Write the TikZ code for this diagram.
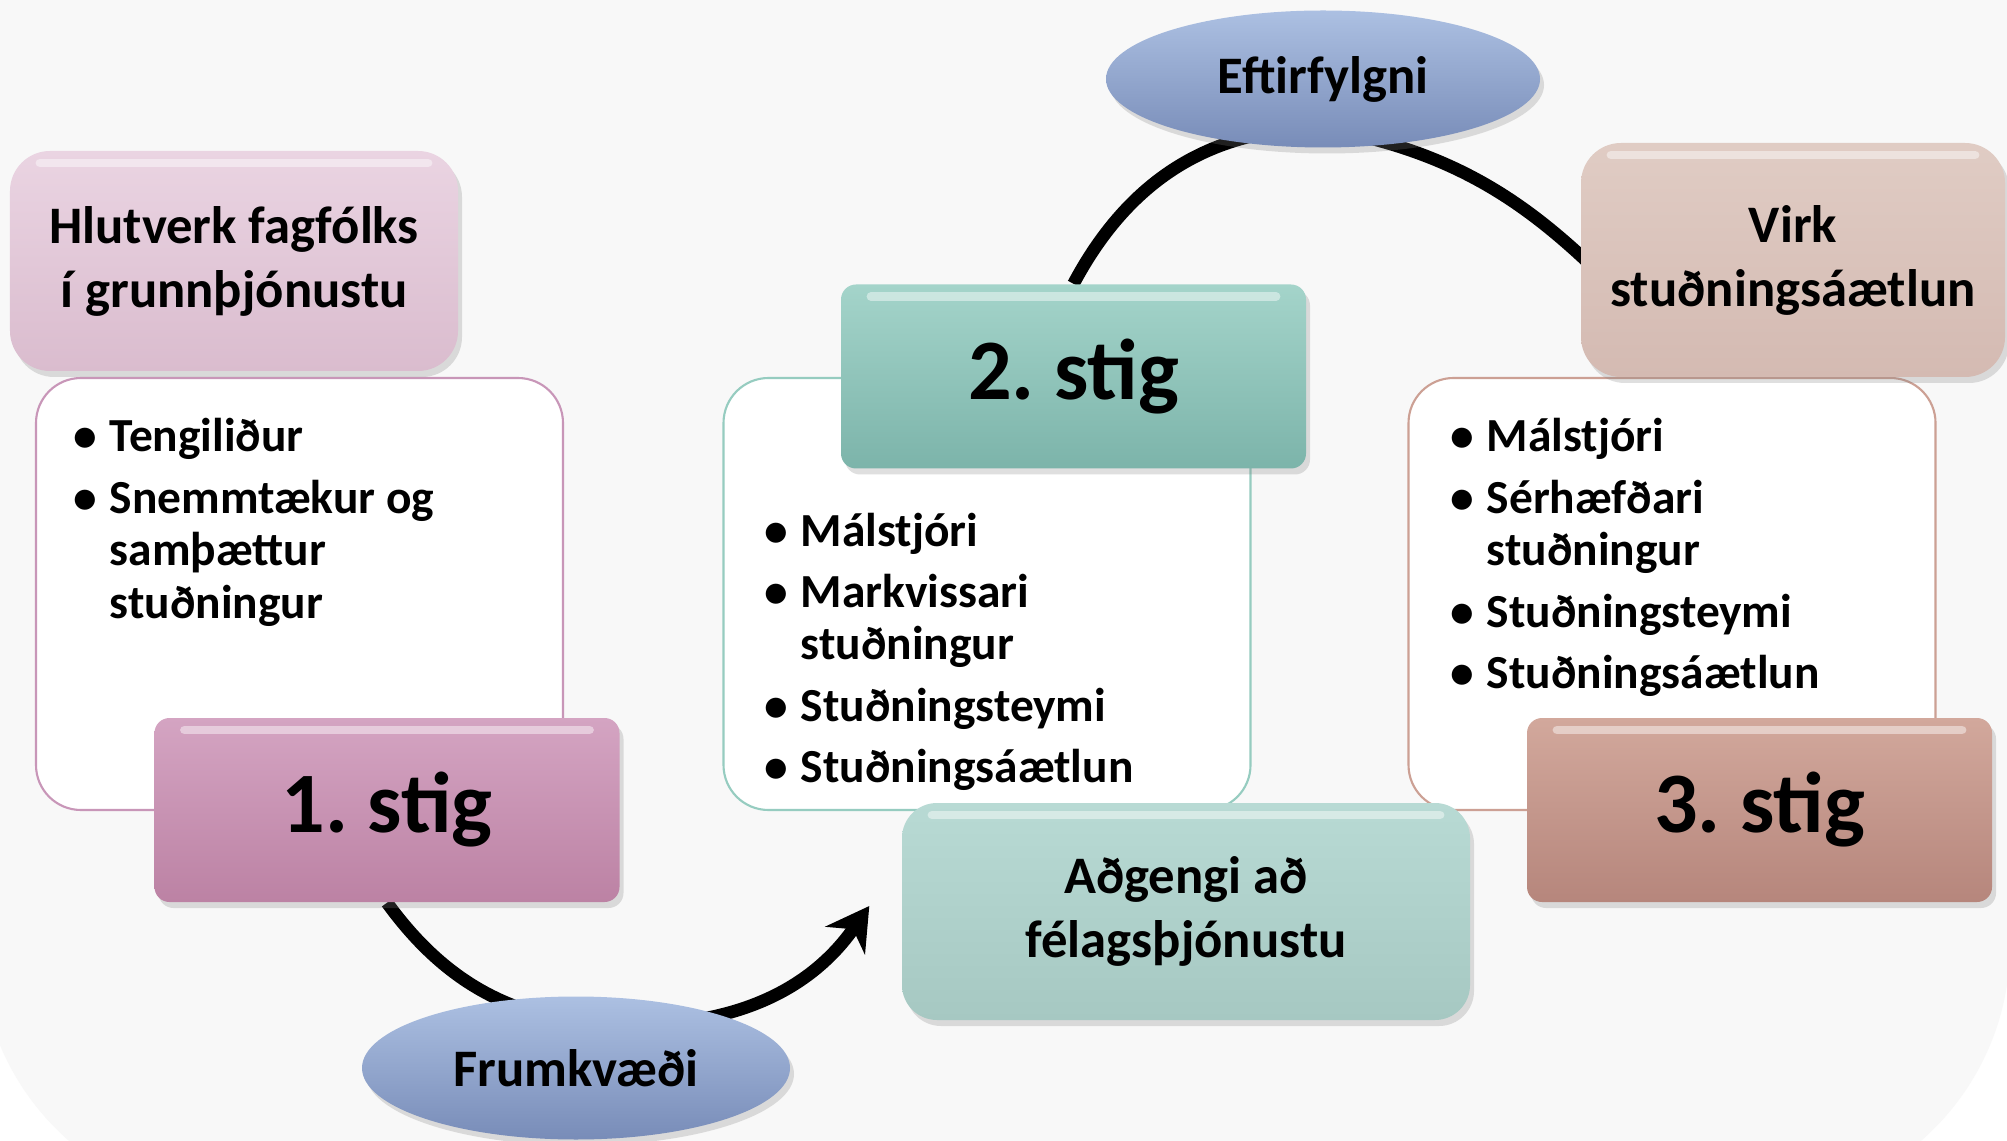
\documentclass[tikz,border=0pt]{standalone}
\usepackage{fontspec}
\setmainfont{Carlito}
\usetikzlibrary{arrows.meta,shapes.geometric,shadows,backgrounds}
\frenchspacing

\definecolor{bggray}{RGB}{248,248,248}
\definecolor{pinkline}{RGB}{200,150,184}
\definecolor{tealline}{RGB}{150,204,192}
\definecolor{roseline}{RGB}{204,160,148}
\definecolor{hlutA}{RGB}{234,212,226}
\definecolor{hlutB}{RGB}{218,188,206}
\definecolor{einnA}{RGB}{212,164,194}
\definecolor{einnB}{RGB}{188,130,164}
\definecolor{tveirA}{RGB}{164,212,202}
\definecolor{tveirB}{RGB}{124,180,170}
\definecolor{thrirA}{RGB}{210,168,156}
\definecolor{thrirB}{RGB}{182,134,124}
\definecolor{virkA}{RGB}{224,204,196}
\definecolor{virkB}{RGB}{212,186,178}
\definecolor{adgA}{RGB}{184,218,212}
\definecolor{adgB}{RGB}{166,200,194}
\definecolor{ovalA}{RGB}{172,192,226}
\definecolor{ovalB}{RGB}{120,140,184}

\newcommand{\blt}{\makebox[0.36cm][l]{\textbullet}}
\newcommand{\hng}{\hspace*{0.36cm}}

\begin{document}
\begin{tikzpicture}[
  box/.style={rectangle, rounded corners=0.4cm, inner sep=0pt, align=center,
    font=\bfseries\fontsize{15}{18.2}\selectfont, gloss,
    drop shadow={opacity=0.25, shadow xshift=0.04cm, shadow yshift=-0.06cm}},
  stig/.style={box, rounded corners=0.15cm, minimum width=4.65cm, minimum height=1.84cm,
    font=\bfseries\fontsize{24.5}{28}\selectfont},
  oval/.style={ellipse, inner sep=0pt, top color=ovalA, bottom color=ovalB,
    font=\bfseries\fontsize{15}{18}\selectfont,
    drop shadow={opacity=0.25, shadow xshift=0.04cm, shadow yshift=-0.06cm}},
  listbox/.style={rectangle, rounded corners=0.45cm, fill=white, line width=0.6pt,
    minimum width=5.27cm, minimum height=4.32cm},
  listtext/.style={anchor=base west, inner sep=0pt, font=\bfseries\fontsize{13.5}{14.9}\selectfont},
  gloss/.style={path picture={\draw[white, opacity=0.45, line width=2.5pt, line cap=round]
    ([xshift=0.3cm, yshift=-0.12cm]path picture bounding box.north west) --
    ([xshift=-0.3cm, yshift=-0.12cm]path picture bounding box.north east);}},
  flow/.style={line width=3.6pt, black}
]
\useasboundingbox (0,0) rectangle (20.07,-11.41);

\node[listbox, draw=pinkline] (l1) at (2.995,-5.94) {};
\node[listbox, draw=tealline] (l2) at (9.87,-5.94) {};
\node[listbox, draw=roseline] (l3) at (16.72,-5.94) {};

\node[listtext] (t1) at (0.73,-4.52) {\begin{tabular}[t]{@{}l@{}}\blt Tengiliður\\[2.6pt] \blt Snemmtækur og\\ \hng samþættur\\ \hng stuðningur\end{tabular}};
\node[listtext] (t2) at (7.64,-5.46) {\begin{tabular}[t]{@{}l@{}}\blt Málstjóri\\[2.6pt] \blt Markvissari\\ \hng stuðningur\\[2.6pt] \blt Stuðningsteymi\\[2.6pt] \blt Stuðningsáætlun\end{tabular}};
\node[listtext] (t3) at (14.50,-4.52) {\begin{tabular}[t]{@{}l@{}}\blt Málstjóri\\[2.6pt] \blt Sérhæfðari\\ \hng stuðningur\\[2.6pt] \blt Stuðningsteymi\\[2.6pt] \blt Stuðningsáætlun\end{tabular}};

\node[box, minimum width=4.48cm, minimum height=2.2cm, top color=hlutA, bottom color=hlutB] (hlut) at (2.34,-2.61) {Hlutverk fagfólks\\í grunnþjónustu};
\node[box, minimum width=4.24cm, minimum height=2.34cm, top color=virkA, bottom color=virkB] (virk) at (17.93,-2.60) {Virk\\stuðningsáætlun};
\node[box, rounded corners=0.35cm, minimum width=5.68cm, minimum height=2.17cm, top color=adgA, bottom color=adgB] (adg) at (11.86,-9.115) {Aðgengi að\\félagsþjónustu};

\node[stig, top color=einnA, bottom color=einnB] (stig1) at (3.87,-8.10) {1. stig};
\node[stig, top color=tveirA, bottom color=tveirB] (stig2) at (10.735,-3.765) {2. stig};
\node[stig, top color=thrirA, bottom color=thrirB] (stig3) at (17.595,-8.10) {3. stig};

\node[oval, minimum width=4.34cm, minimum height=1.37cm] (eftir) at (13.23,-0.79) {Eftirfylgni};
\node[oval, minimum width=4.28cm, minimum height=1.43cm] (frum) at (5.76,-10.68) {Frumkvæði};

\begin{pgfonlayer}{background}
\fill[white] (0,0) rectangle (20.07,-11.41);
\fill[bggray] (-0.2,0.3) -- (20.10,0.3) -- (20.10,-9.45) arc[start angle=0, end angle=-90, radius=2.6cm]
  -- (2.4,-12.05) arc[start angle=270, end angle=180, radius=2.6cm] -- cycle;
\draw[flow] (stig1.south) to[out=-54,in=180] ([xshift=0.54cm,yshift=0.43cm]frum.center);
\draw[flow,-{Stealth[length=0.42cm,width=0.48cm]}] ([xshift=0.54cm,yshift=0.43cm]frum.center) to[out=0,in=235] ([xshift=-0.32cm,yshift=0.055cm]adg.west);
\draw[flow] (stig2.north) to[out=62,in=180] ([yshift=0.2cm]eftir.south);
\draw[flow,-{Stealth[length=0.42cm,width=0.48cm]}] ([yshift=0.2cm]eftir.south) to[out=-10,in=135] ([xshift=0.52cm,yshift=-0.46cm]virk.west);
\end{pgfonlayer}
\end{tikzpicture}
\end{document}
